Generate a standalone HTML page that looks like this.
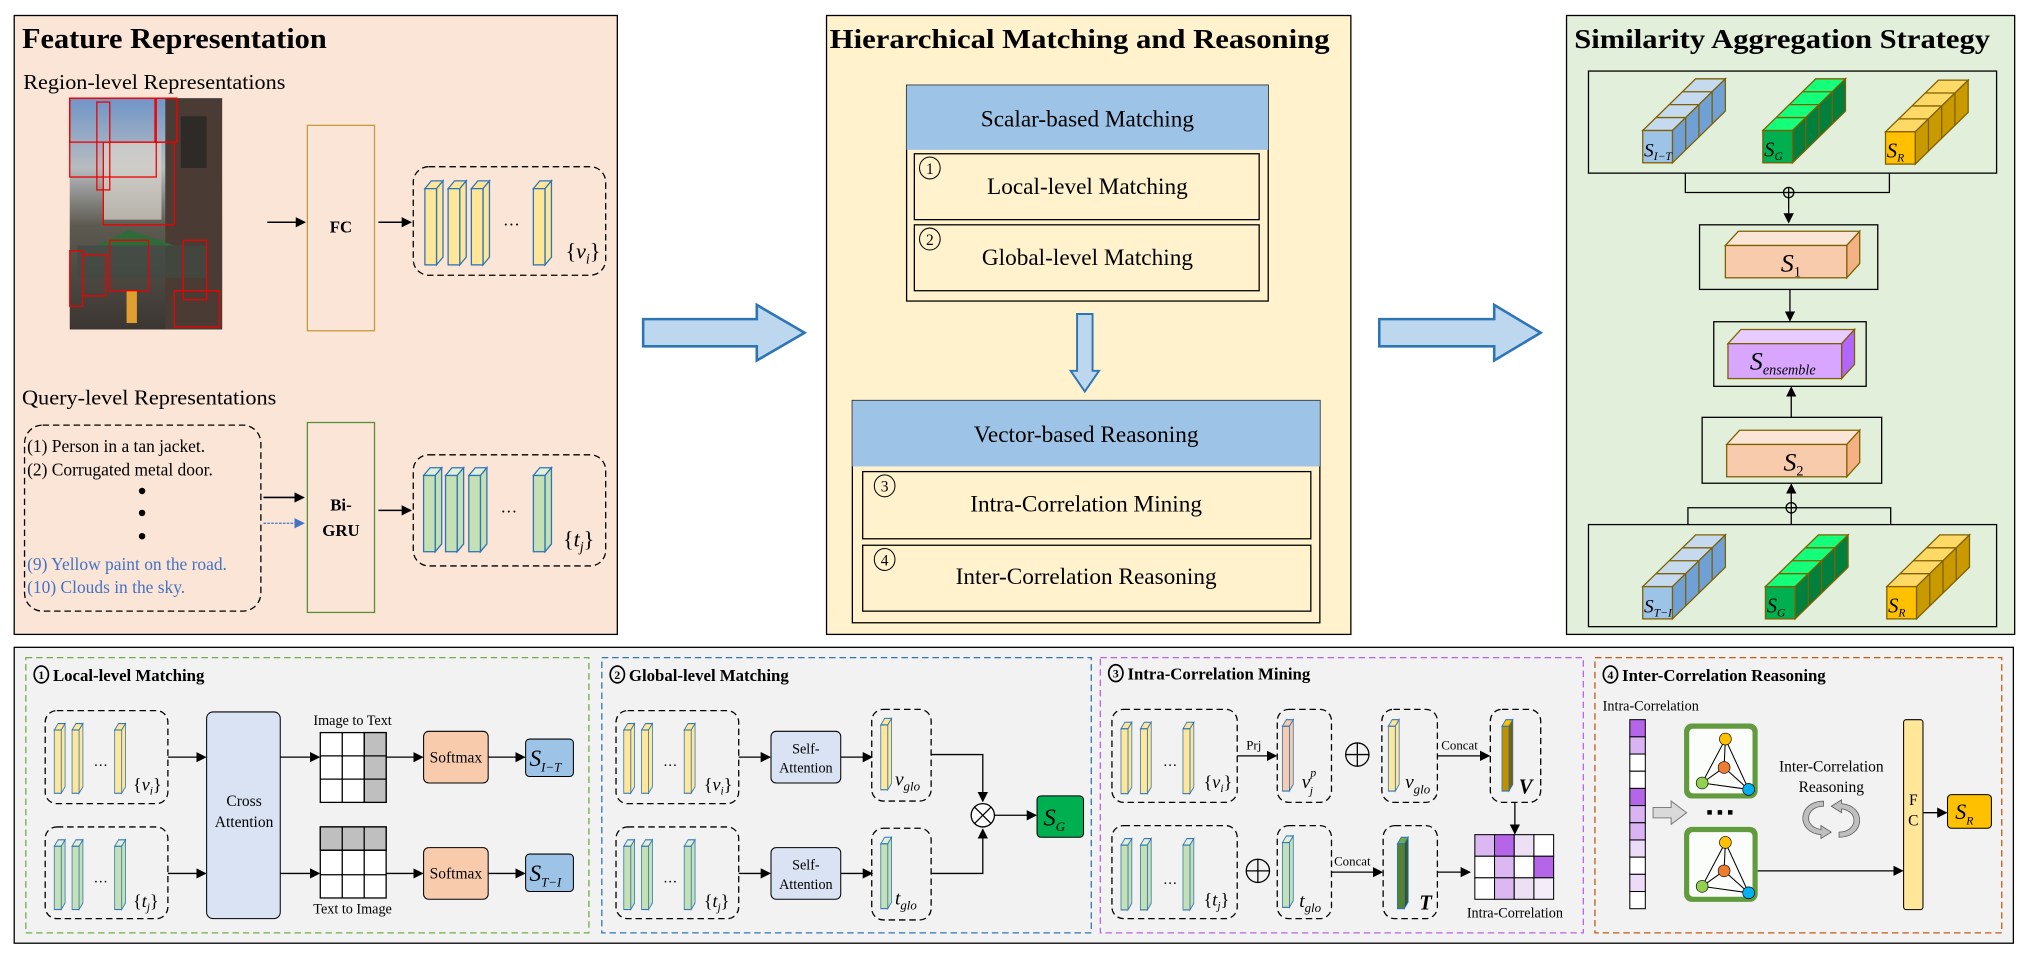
<!DOCTYPE html>
<html><head><meta charset="utf-8"><style>
html,body{margin:0;padding:0;background:#fff;}
svg{display:block;}
text{font-family:"Liberation Serif","DejaVu Serif",serif;fill:#000;}
.b{font-weight:bold;}
.i{font-style:italic;}
</style></head><body>
<svg width="2025" height="960" viewBox="0 0 1568 743" preserveAspectRatio="none" xmlns="http://www.w3.org/2000/svg">
<defs>
<marker id="ah" markerWidth="8" markerHeight="8" refX="7" refY="4" orient="auto" markerUnits="userSpaceOnUse"><path d="M0,0 L8,4 L0,8 z" fill="#000"/></marker>
<marker id="ahb" markerWidth="8" markerHeight="8" refX="7" refY="4" orient="auto" markerUnits="userSpaceOnUse"><path d="M0,0 L8,4 L0,8 z" fill="#4472c4"/></marker>
<g id="by"><polygon points="0,6 5,0 14,0 9,6" fill="#ffe699" stroke="#2e75b6" stroke-width="1"/><polygon points="9,6 14,0 14,59 9,65" fill="#ffe699" stroke="#2e75b6" stroke-width="1"/><rect x="0" y="6" width="9" height="59" fill="#ffe699" stroke="#2e75b6" stroke-width="1"/></g>
<g id="bgr"><polygon points="0,6 5,0 14,0 9,6" fill="#e2f0d9" stroke="#2e75b6" stroke-width="1"/><polygon points="9,6 14,0 14,59 9,65" fill="#c5e0b4" stroke="#2e75b6" stroke-width="1"/><rect x="0" y="6" width="9" height="59" fill="#c5e0b4" stroke="#2e75b6" stroke-width="1"/></g>
<g id="bp"><polygon points="0,6 5,0 14,0 9,6" fill="#f8cbad" stroke="#2e75b6" stroke-width="1"/><polygon points="9,6 14,0 14,59 9,65" fill="#f8cbad" stroke="#2e75b6" stroke-width="1"/><rect x="0" y="6" width="9" height="59" fill="#f8cbad" stroke="#2e75b6" stroke-width="1"/></g>
<g id="bV"><polygon points="0,6 5,0 14,0 9,6" fill="#ffc000" stroke="#2e75b6" stroke-width="1"/><polygon points="9,6 14,0 14,59 9,65" fill="#7f6000" stroke="#2e75b6" stroke-width="1"/><rect x="0" y="6" width="9" height="59" fill="#bf9000" stroke="#2e75b6" stroke-width="1"/></g>
<g id="bT"><polygon points="0,6 5,0 14,0 9,6" fill="#70ad47" stroke="#2e75b6" stroke-width="1"/><polygon points="9,6 14,0 14,59 9,65" fill="#385723" stroke="#2e75b6" stroke-width="1"/><rect x="0" y="6" width="9" height="59" fill="#548235" stroke="#2e75b6" stroke-width="1"/></g>
<g id="chB" stroke="#7f6000" stroke-width="1"><polygon points="0,0 41,-40 64,-40 23,0" fill="#c5d9ef"/><polygon points="23,0 64,-40 64,-15 23,25" fill="#6fa1d6"/><rect x="0" y="0" width="23" height="25" fill="#9dc3e6"/><path d="M10.25,-10H33.25V15M20.5,-20H43.5V5M30.75,-30H53.75V-5" fill="none"/></g>
<g id="chG" stroke="#7f6000" stroke-width="1"><polygon points="0,0 41,-40 64,-40 23,0" fill="#14ff7a"/><polygon points="23,0 64,-40 64,-15 23,25" fill="#00803c"/><rect x="0" y="0" width="23" height="25" fill="#00b050"/><path d="M10.25,-10H33.25V15M20.5,-20H43.5V5M30.75,-30H53.75V-5" fill="none"/></g>
<g id="chY" stroke="#7f6000" stroke-width="1"><polygon points="0,0 41,-40 64,-40 23,0" fill="#ffd966"/><polygon points="23,0 64,-40 64,-15 23,25" fill="#c99a00"/><rect x="0" y="0" width="23" height="25" fill="#ffc000"/><path d="M10.25,-10H33.25V15M20.5,-20H43.5V5M30.75,-30H53.75V-5" fill="none"/></g>
<g id="graph"><rect x="0" y="0" width="57" height="58" rx="6" fill="#629a3e"/><rect x="4" y="4" width="49" height="50" rx="3" fill="#fbfdfb"/>
<path d="M32,12 L14,46 M32,12 L50,51 M32,12 L31,34 M31,34 L14,46 M31,34 L50,51 M14,46 L50,51" stroke="#000" stroke-width="0.8" fill="none"/>
<circle cx="32" cy="12" r="4.6" fill="#ffc000" stroke="#000" stroke-width=".5"/><circle cx="31" cy="34" r="4.6" fill="#ed7d31" stroke="#000" stroke-width=".5"/><circle cx="14" cy="46" r="4.6" fill="#92d050" stroke="#000" stroke-width=".5"/><circle cx="50" cy="51" r="4.6" fill="#00b0f0" stroke="#000" stroke-width=".5"/></g>
<linearGradient id="photo" x1="0" y1="0" x2="0" y2="1"><stop offset="0" stop-color="#6f95c8"/><stop offset=".3" stop-color="#b8bcc0"/><stop offset=".55" stop-color="#5d5a50"/><stop offset="1" stop-color="#3b3632"/></linearGradient>
</defs>

<!-- Panel 1 -->
<rect x="11" y="12" width="467" height="479" fill="#fbe5d6" stroke="#000" stroke-width="1"/>
<text x="17" y="37" class="b" font-size="22" textLength="236" lengthAdjust="spacingAndGlyphs">Feature Representation</text>
<text x="18" y="69" font-size="16" textLength="203" lengthAdjust="spacingAndGlyphs">Region-level Representations</text>
<rect x="54" y="76" width="118" height="179" fill="url(#photo)"/>
<rect x="128" y="76" width="44" height="179" fill="#4a3c34"/>
<rect x="140" y="90" width="20" height="40" fill="#2d2a28"/>
<rect x="80" y="110" width="45" height="60" fill="#d8d4cc" opacity=".7"/>
<path d="M75,190 L100,178 L135,190 Z" fill="#2f6a3a"/>
<rect x="60" y="190" width="100" height="25" fill="#3f4a44" opacity=".7"/>
<rect x="98" y="225" width="8" height="25" fill="#e0a030"/>
<g fill="none" stroke="#e00" stroke-width="1">
<rect x="54" y="76" width="83" height="34"/><rect x="75" y="79" width="10" height="68"/><rect x="54" y="76" width="67" height="61"/><rect x="120" y="76" width="17" height="34"/><rect x="80" y="110" width="55" height="64"/><rect x="54" y="194" width="10" height="43"/><rect x="64" y="197" width="18" height="32"/><rect x="85" y="186" width="30" height="39"/><rect x="142" y="186" width="18" height="46"/><rect x="135" y="225" width="35" height="28"/></g>
<line x1="207" y1="172" x2="236" y2="172" stroke="#000" stroke-width="1.2" marker-end="url(#ah)"/>
<rect x="238" y="97" width="52" height="159" fill="none" stroke="#c59a3a" stroke-width="1"/>
<text x="264" y="180" class="b" font-size="13" text-anchor="middle">FC</text>
<line x1="293" y1="172" x2="318" y2="172" stroke="#000" stroke-width="1.2" marker-end="url(#ah)"/>
<rect x="320" y="129" width="149" height="84" rx="12" fill="none" stroke="#000" stroke-dasharray="5,3"/>
<use href="#by" x="329" y="140"/><use href="#by" x="347" y="140"/><use href="#by" x="365" y="140"/><use href="#by" x="413" y="140"/>
<text x="396" y="178" font-size="13" text-anchor="middle">···</text>
<text x="438" y="200" font-size="17">{<tspan class="i">v</tspan><tspan class="i" font-size="11" dy="4">i</tspan><tspan dy="-4">}</tspan></text>
<text x="17" y="313" font-size="16" textLength="197" lengthAdjust="spacingAndGlyphs">Query-level Representations</text>
<rect x="19" y="329" width="183" height="144" rx="14" fill="none" stroke="#000" stroke-dasharray="5,3"/>
<text x="21" y="350" font-size="13.5">(1) Person in a tan jacket.</text>
<text x="21" y="368" font-size="13.5">(2) Corrugated metal door.</text>
<circle cx="110" cy="380" r="2.5"/><circle cx="110" cy="397" r="2.5"/><circle cx="110" cy="415" r="2.5"/>
<text x="21" y="441" font-size="13.5" style="fill:#4472c4">(9) Yellow paint on the road.</text>
<text x="21" y="459" font-size="13.5" style="fill:#4472c4">(10) Clouds in the sky.</text>
<line x1="204" y1="385" x2="235" y2="385" stroke="#000" stroke-width="1.2" marker-end="url(#ah)"/>
<line x1="204" y1="405" x2="235" y2="405" stroke="#4472c4" stroke-width="1" stroke-dasharray="2,1" marker-end="url(#ahb)"/>
<rect x="238" y="327" width="52" height="147" fill="none" stroke="#5b8c3a" stroke-width="1"/>
<text x="264" y="395" class="b" font-size="13" text-anchor="middle">Bi-</text>
<text x="264" y="415" class="b" font-size="13" text-anchor="middle">GRU</text>
<line x1="293" y1="395" x2="318" y2="395" stroke="#000" stroke-width="1.2" marker-end="url(#ah)"/>
<rect x="320" y="352" width="149" height="86" rx="12" fill="none" stroke="#000" stroke-dasharray="5,3"/>
<use href="#bgr" x="328" y="362"/><use href="#bgr" x="345" y="362"/><use href="#bgr" x="363" y="362"/><use href="#bgr" x="413" y="362"/>
<text x="394" y="400" font-size="13" text-anchor="middle">···</text>
<text x="436" y="423" font-size="17">{<tspan class="i">t</tspan><tspan class="i" font-size="11" dy="4">j</tspan><tspan dy="-4">}</tspan></text>

<!-- big arrows -->
<polygon points="498,247 586,247 586,236 623,257.5 586,279 586,268 498,268" fill="#bdd7ee" stroke="#2e75b6" stroke-width="2"/>
<polygon points="1068,247 1157,247 1157,236 1193,257.5 1157,279 1157,268 1068,268" fill="#bdd7ee" stroke="#2e75b6" stroke-width="2"/>

<!-- Panel 2 -->
<rect x="640" y="12" width="406" height="479" fill="#fff2cc" stroke="#000" stroke-width="1"/>
<text x="836" y="37" class="b" font-size="21" text-anchor="middle" textLength="387" lengthAdjust="spacingAndGlyphs">Hierarchical Matching and Reasoning</text>
<rect x="702" y="66" width="280" height="167" fill="none" stroke="#000"/>
<rect x="702" y="66" width="280" height="50" fill="#9dc3e6"/>
<text x="842" y="98" font-size="18" text-anchor="middle">Scalar-based Matching</text>
<rect x="708" y="119" width="267" height="51" fill="none" stroke="#000"/>
<rect x="708" y="174" width="267" height="51" fill="none" stroke="#000"/>
<g fill="none" stroke="#000" stroke-width=".8"><ellipse cx="720" cy="130" rx="8" ry="8.5"/><ellipse cx="720" cy="185" rx="8" ry="8.5"/><ellipse cx="685" cy="376" rx="8" ry="8.5"/><ellipse cx="685" cy="433" rx="8" ry="8.5"/></g>
<text x="720" y="134.5" font-size="12" text-anchor="middle">1</text>
<text x="720" y="189.5" font-size="12" text-anchor="middle">2</text>
<text x="685" y="380.5" font-size="12" text-anchor="middle">3</text>
<text x="685" y="437.5" font-size="12" text-anchor="middle">4</text>
<text x="842" y="150" font-size="18" text-anchor="middle">Local-level Matching</text>
<text x="842" y="205" font-size="18" text-anchor="middle">Global-level Matching</text>
<polygon points="834,243 846,243 846,287 851,287 840,303 829,287 834,287" fill="#bdd7ee" stroke="#2e75b6" stroke-width="1.5"/>
<rect x="660" y="310" width="362" height="172" fill="none" stroke="#000"/>
<rect x="660" y="310" width="362" height="51" fill="#9dc3e6"/>
<text x="841" y="342" font-size="18" text-anchor="middle">Vector-based Reasoning</text>
<rect x="668" y="365" width="347" height="52" fill="none" stroke="#000"/>
<rect x="668" y="422" width="347" height="51" fill="none" stroke="#000"/>
<text x="841" y="396" font-size="18" text-anchor="middle">Intra-Correlation Mining</text>
<text x="841" y="452" font-size="18" text-anchor="middle">Inter-Correlation Reasoning</text>

<!-- Panel 3 -->
<rect x="1213" y="12" width="347" height="479" fill="#e2efda" stroke="#000" stroke-width="1"/>
<text x="1380" y="37" class="b" font-size="21" text-anchor="middle" textLength="322" lengthAdjust="spacingAndGlyphs">Similarity Aggregation Strategy</text>
<rect x="1230" y="55" width="316" height="79" fill="none" stroke="#000"/>
<use href="#chB" x="1272" y="101"/><use href="#chG" x="1365" y="101"/><use href="#chY" x="1460" y="102"/>
<text x="1273" y="121" font-size="15" class="i">S<tspan font-size="9" dy="3">I−T</tspan></text>
<text x="1366" y="121" font-size="16" class="i">S<tspan font-size="9" dy="3">G</tspan></text>
<text x="1461" y="122" font-size="16" class="i">S<tspan font-size="9" dy="3">R</tspan></text>
<path d="M1305,134 V149 H1463 V134" fill="none" stroke="#000"/>
<circle cx="1385" cy="149" r="4" fill="none" stroke="#000"/><path d="M1381,149H1389M1385,145V153" stroke="#000"/>
<line x1="1385" y1="153" x2="1385" y2="172" stroke="#000" marker-end="url(#ah)"/>
<rect x="1316" y="174" width="138" height="50" fill="none" stroke="#000"/>
<g stroke="#7f6000" stroke-width="1"><polygon points="1336,190 1346,179 1440,179 1430,190" fill="#fbe5d6"/><polygon points="1430,190 1440,179 1440,204 1430,215" fill="#f4b183"/><rect x="1336" y="190" width="94" height="25" fill="#f8cbad"/></g>
<text x="1379" y="210" font-size="20" class="i">S<tspan font-size="11" dy="4" font-style="normal">1</tspan></text>
<line x1="1386" y1="224" x2="1386" y2="248" stroke="#000" marker-end="url(#ah)"/>
<rect x="1327" y="249" width="118" height="50" fill="none" stroke="#000"/>
<g stroke="#7f6000" stroke-width="1"><polygon points="1338,266 1348,255 1436,255 1426,266" fill="#e8ccff"/><polygon points="1426,266 1436,255 1436,282 1426,293" fill="#b266ff"/><rect x="1338" y="266" width="88" height="27" fill="#d9a6ff"/></g>
<text x="1355" y="286" font-size="20" class="i">S<tspan font-size="11" dy="4">ensemble</tspan></text>
<line x1="1387" y1="323" x2="1387" y2="300" stroke="#000" marker-end="url(#ah)"/>
<rect x="1318" y="323" width="139" height="51" fill="none" stroke="#000"/>
<g stroke="#7f6000" stroke-width="1"><polygon points="1337,344 1347,333 1440,333 1430,344" fill="#fbe5d6"/><polygon points="1430,344 1440,333 1440,358 1430,369" fill="#f4b183"/><rect x="1337" y="344" width="93" height="25" fill="#f8cbad"/></g>
<text x="1381" y="364" font-size="20" class="i">S<tspan font-size="11" dy="4" font-style="normal">2</tspan></text>
<path d="M1307,406 V393 H1464 V406" fill="none" stroke="#000"/>
<line x1="1387" y1="406" x2="1387" y2="397" stroke="#000"/>
<circle cx="1387" cy="393" r="4" fill="none" stroke="#000"/><path d="M1383,393H1391M1387,389V397" stroke="#000"/>
<line x1="1387" y1="389" x2="1387" y2="375" stroke="#000" marker-end="url(#ah)"/>
<rect x="1230" y="406" width="316" height="79" fill="none" stroke="#000"/>
<use href="#chB" x="1272" y="454"/><use href="#chG" x="1367" y="454"/><use href="#chY" x="1461" y="454"/>
<text x="1273" y="474" font-size="15" class="i">S<tspan font-size="9" dy="3">T−I</tspan></text>
<text x="1368" y="474" font-size="16" class="i">S<tspan font-size="9" dy="3">G</tspan></text>
<text x="1462" y="474" font-size="16" class="i">S<tspan font-size="9" dy="3">R</tspan></text>

<!-- Bottom panel -->
<rect x="11" y="501" width="1548" height="229" fill="#f2f2f2" stroke="#000" stroke-width="1"/>
<rect x="20" y="509" width="436" height="213" fill="none" stroke="#70ad47" stroke-dasharray="5,3"/>
<rect x="466" y="509" width="379" height="213" fill="none" stroke="#2e75b6" stroke-dasharray="5,3"/>
<rect x="852" y="509" width="374" height="213" fill="none" stroke="#b565e8" stroke-dasharray="5,3"/>
<rect x="1235" y="509" width="315" height="213" fill="none" stroke="#c55a11" stroke-dasharray="5,3"/>
<g fill="none" stroke="#000" stroke-width="1.3"><ellipse cx="32" cy="522" rx="5.5" ry="6.5"/><ellipse cx="478" cy="522" rx="5.5" ry="6.5"/><ellipse cx="864" cy="521" rx="5.5" ry="6.5"/><ellipse cx="1247" cy="522" rx="5.5" ry="6.5"/></g>
<g class="b" font-size="9" text-anchor="middle"><text x="32" y="525.5" class="b">1</text><text x="478" y="525.5" class="b">2</text><text x="864" y="524.5" class="b">3</text><text x="1247" y="525.5" class="b">4</text></g>
<text x="41" y="527" class="b" font-size="13">Local-level Matching</text>
<text x="487" y="527" class="b" font-size="13">Global-level Matching</text>
<text x="873" y="526" class="b" font-size="13">Intra-Correlation Mining</text>
<text x="1256" y="527" class="b" font-size="13">Inter-Correlation Reasoning</text>

<!-- sub1 -->
<rect x="35" y="550" width="95" height="72" rx="9" fill="none" stroke="#000" stroke-dasharray="5,3"/>
<rect x="35" y="640" width="95" height="71" rx="9" fill="none" stroke="#000" stroke-dasharray="5,3"/>
<g transform="translate(42,560) scale(0.6,0.83)"><use href="#by"/><use href="#by" x="23"/><use href="#by" x="78"/></g>
<g transform="translate(42,650) scale(0.6,0.83)"><use href="#bgr"/><use href="#bgr" x="23"/><use href="#bgr" x="78"/></g>
<text x="78" y="593" font-size="11" text-anchor="middle">…</text><text x="78" y="683" font-size="11" text-anchor="middle">…</text>
<text x="103" y="612" font-size="14">{<tspan class="i">v</tspan><tspan class="i" font-size="9" dy="3">i</tspan><tspan dy="-3">}</tspan></text>
<text x="103" y="702" font-size="14">{<tspan class="i">t</tspan><tspan class="i" font-size="9" dy="3">j</tspan><tspan dy="-3">}</tspan></text>
<line x1="130" y1="586" x2="159" y2="586" stroke="#000" marker-end="url(#ah)"/>
<line x1="130" y1="676" x2="159" y2="676" stroke="#000" marker-end="url(#ah)"/>
<rect x="160" y="551" width="57" height="160" rx="5" fill="#dae3f3" stroke="#000" stroke-width=".8"/>
<text x="189" y="624" font-size="12" text-anchor="middle">Cross</text><text x="189" y="640" font-size="12" text-anchor="middle">Attention</text>
<line x1="217" y1="586" x2="247" y2="586" stroke="#000" marker-end="url(#ah)"/>
<line x1="217" y1="676" x2="247" y2="676" stroke="#000" marker-end="url(#ah)"/>
<text x="273" y="561" font-size="11" text-anchor="middle">Image to Text</text>
<rect x="248" y="567" width="51" height="54" fill="#fff" stroke="#000"/><rect x="282" y="567" width="17" height="54" fill="#bfbfbf" stroke="#000"/>
<path d="M265,567V621M282,567V621M248,585H299M248,603H299" stroke="#000" fill="none"/>
<rect x="248" y="640" width="51" height="55" fill="#fff" stroke="#000"/><rect x="248" y="640" width="51" height="18" fill="#bfbfbf" stroke="#000"/>
<path d="M265,640V695M282,640V695M248,658H299M248,677H299" stroke="#000" fill="none"/>
<text x="273" y="707" font-size="11" text-anchor="middle">Text to Image</text>
<line x1="299" y1="586" x2="327" y2="586" stroke="#000" marker-end="url(#ah)"/>
<line x1="299" y1="676" x2="327" y2="676" stroke="#000" marker-end="url(#ah)"/>
<rect x="328" y="566" width="50" height="40" rx="4" fill="#f8cbad" stroke="#000" stroke-width=".8"/>
<rect x="328" y="656" width="50" height="40" rx="4" fill="#f8cbad" stroke="#000" stroke-width=".8"/>
<text x="353" y="590" font-size="12" text-anchor="middle">Softmax</text><text x="353" y="680" font-size="12" text-anchor="middle">Softmax</text>
<line x1="378" y1="586" x2="406" y2="586" stroke="#000" marker-end="url(#ah)"/>
<line x1="378" y1="676" x2="406" y2="676" stroke="#000" marker-end="url(#ah)"/>
<rect x="407" y="572" width="37" height="29" rx="3" fill="#9dc3e6" stroke="#000" stroke-width=".8"/>
<rect x="407" y="661" width="37" height="29" rx="3" fill="#9dc3e6" stroke="#000" stroke-width=".8"/>
<text x="410" y="593" font-size="18" class="i">S<tspan font-size="10" dy="4">I−T</tspan></text>
<text x="410" y="682" font-size="18" class="i">S<tspan font-size="10" dy="4">T−I</tspan></text>

<!-- sub2 -->
<rect x="477" y="550" width="95" height="72" rx="9" fill="none" stroke="#000" stroke-dasharray="5,3"/>
<rect x="477" y="640" width="95" height="71" rx="9" fill="none" stroke="#000" stroke-dasharray="5,3"/>
<g transform="translate(483,560) scale(0.6,0.83)"><use href="#by"/><use href="#by" x="23"/><use href="#by" x="78"/></g>
<g transform="translate(483,650) scale(0.6,0.83)"><use href="#bgr"/><use href="#bgr" x="23"/><use href="#bgr" x="78"/></g>
<text x="519" y="593" font-size="11" text-anchor="middle">…</text><text x="519" y="683" font-size="11" text-anchor="middle">…</text>
<text x="545" y="612" font-size="14">{<tspan class="i">v</tspan><tspan class="i" font-size="9" dy="3">i</tspan><tspan dy="-3">}</tspan></text>
<text x="545" y="702" font-size="14">{<tspan class="i">t</tspan><tspan class="i" font-size="9" dy="3">j</tspan><tspan dy="-3">}</tspan></text>
<line x1="572" y1="586" x2="596" y2="586" stroke="#000" marker-end="url(#ah)"/>
<line x1="572" y1="676" x2="596" y2="676" stroke="#000" marker-end="url(#ah)"/>
<rect x="597" y="566" width="54" height="40" rx="4" fill="#dae3f3" stroke="#000" stroke-width=".8"/>
<rect x="597" y="656" width="54" height="40" rx="4" fill="#dae3f3" stroke="#000" stroke-width=".8"/>
<text x="624" y="583" font-size="11" text-anchor="middle">Self-</text><text x="624" y="598" font-size="11" text-anchor="middle">Attention</text>
<text x="624" y="673" font-size="11" text-anchor="middle">Self-</text><text x="624" y="688" font-size="11" text-anchor="middle">Attention</text>
<line x1="651" y1="586" x2="675" y2="586" stroke="#000" marker-end="url(#ah)"/>
<line x1="651" y1="676" x2="675" y2="676" stroke="#000" marker-end="url(#ah)"/>
<rect x="675" y="549" width="46" height="71" rx="9" fill="none" stroke="#000" stroke-dasharray="5,3"/>
<rect x="675" y="641" width="46" height="71" rx="9" fill="none" stroke="#000" stroke-dasharray="5,3"/>
<g transform="translate(682,556) scale(0.6,0.85)"><use href="#by"/></g>
<g transform="translate(682,648) scale(0.6,0.85)"><use href="#bgr"/></g>
<text x="693" y="608" font-size="15" class="i">v<tspan font-size="10" dy="4">glo</tspan></text>
<text x="693" y="700" font-size="15" class="i">t<tspan font-size="10" dy="4">glo</tspan></text>
<path d="M721,584 H761 V620" fill="none" stroke="#000" marker-end="url(#ah)"/>
<path d="M721,676 H761 V642" fill="none" stroke="#000" marker-end="url(#ah)"/>
<circle cx="761" cy="631" r="9" fill="#fff" stroke="#000"/><path d="M754.6,624.6L767.4,637.4M767.4,624.6L754.6,637.4" stroke="#000"/>
<line x1="770" y1="631" x2="802" y2="631" stroke="#000" marker-end="url(#ah)"/>
<rect x="803" y="616" width="36" height="32" rx="3" fill="#00b050" stroke="#000" stroke-width=".8"/>
<text x="808" y="639" font-size="19" class="i">S<tspan font-size="10" dy="4">G</tspan></text>

<!-- sub3 -->
<rect x="861" y="549" width="97" height="72" rx="9" fill="none" stroke="#000" stroke-dasharray="5,3"/>
<rect x="861" y="639" width="97" height="72" rx="9" fill="none" stroke="#000" stroke-dasharray="5,3"/>
<g transform="translate(868,559) scale(0.6,0.85)"><use href="#by"/><use href="#by" x="25"/><use href="#by" x="80"/></g>
<g transform="translate(868,649) scale(0.6,0.85)"><use href="#bgr"/><use href="#bgr" x="25"/><use href="#bgr" x="80"/></g>
<text x="906" y="593" font-size="11" text-anchor="middle">…</text><text x="906" y="684" font-size="11" text-anchor="middle">…</text>
<text x="932" y="610" font-size="14">{<tspan class="i">v</tspan><tspan class="i" font-size="9" dy="3">i</tspan><tspan dy="-3">}</tspan></text>
<text x="932" y="701" font-size="14">{<tspan class="i">t</tspan><tspan class="i" font-size="9" dy="3">j</tspan><tspan dy="-3">}</tspan></text>
<line x1="958" y1="585" x2="988" y2="585" stroke="#000" marker-end="url(#ah)"/>
<text x="965" y="580" font-size="10">Prj</text>
<rect x="989" y="549" width="42" height="72" rx="9" fill="none" stroke="#000" stroke-dasharray="5,3"/>
<rect x="989" y="639" width="42" height="72" rx="9" fill="none" stroke="#000" stroke-dasharray="5,3"/>
<g transform="translate(993,557) scale(0.6,0.85)"><use href="#bp"/></g>
<g transform="translate(993,647) scale(0.6,0.85)"><use href="#bgr"/></g>
<text x="1008" y="610" font-size="15" class="i">v<tspan font-size="9" dy="-9">p</tspan><tspan font-size="9" dx="-5" dy="14">j</tspan></text>
<text x="1006" y="702" font-size="15" class="i">t<tspan font-size="10" dy="4">glo</tspan></text>
<circle cx="1051" cy="584" r="9" fill="none" stroke="#000"/><path d="M1042,584H1060M1051,575V593" stroke="#000"/>
<circle cx="974" cy="674" r="9" fill="none" stroke="#000"/><path d="M965,674H983M974,665V683" stroke="#000"/>
<rect x="1070" y="549" width="43" height="72" rx="9" fill="none" stroke="#000" stroke-dasharray="5,3"/>
<g transform="translate(1075,557) scale(0.6,0.85)"><use href="#by"/></g>
<text x="1088" y="610" font-size="15" class="i">v<tspan font-size="10" dy="4">glo</tspan></text>
<line x1="1113" y1="585" x2="1153" y2="585" stroke="#000" marker-end="url(#ah)"/>
<text x="1116" y="580" font-size="10">Concat</text>
<rect x="1154" y="549" width="39" height="72" rx="9" fill="none" stroke="#000" stroke-dasharray="5,3"/>
<g transform="translate(1163,557) scale(0.6,0.85)"><use href="#bV"/></g>
<text x="1176" y="614" font-size="16" class="i b">V</text>
<line x1="1173" y1="621" x2="1173" y2="645" stroke="#000" marker-end="url(#ah)"/>
<line x1="1031" y1="675" x2="1070" y2="675" stroke="#000" marker-end="url(#ah)"/>
<text x="1033" y="670" font-size="10">Concat</text>
<rect x="1071" y="639" width="42" height="72" rx="9" fill="none" stroke="#000" stroke-dasharray="5,3"/>
<g transform="translate(1082,648) scale(0.6,0.85)"><use href="#bT"/></g>
<text x="1099" y="704" font-size="16" class="i b">T</text>
<line x1="1113" y1="675" x2="1138" y2="675" stroke="#000" marker-end="url(#ah)"/>
<g stroke="#000" stroke-width=".8">
<rect x="1142" y="646" width="15.25" height="16.7" fill="#dcb8f2"/><rect x="1157.25" y="646" width="15.25" height="16.7" fill="#b565e8"/><rect x="1172.5" y="646" width="15.25" height="16.7" fill="#ede0f5"/><rect x="1187.75" y="646" width="15.25" height="16.7" fill="#fff"/>
<rect x="1142" y="662.7" width="15.25" height="16.7" fill="#fff"/><rect x="1157.25" y="662.7" width="15.25" height="16.7" fill="#dcb8f2"/><rect x="1172.5" y="662.7" width="15.25" height="16.7" fill="#fff"/><rect x="1187.75" y="662.7" width="15.25" height="16.7" fill="#b565e8"/>
<rect x="1142" y="679.4" width="15.25" height="16.6" fill="#fff"/><rect x="1157.25" y="679.4" width="15.25" height="16.6" fill="#dcb8f2"/><rect x="1172.5" y="679.4" width="15.25" height="16.6" fill="#ede0f5"/><rect x="1187.75" y="679.4" width="15.25" height="16.6" fill="#f5ecfa"/></g>
<text x="1173" y="710" font-size="11" text-anchor="middle">Intra-Correlation</text>

<!-- sub4 -->
<text x="1241" y="550" font-size="11">Intra-Correlation</text>
<g stroke="#000" stroke-width=".8">
<rect x="1262" y="557" width="12" height="13.3" fill="#b565e8"/><rect x="1262" y="570.3" width="12" height="13.3" fill="#d9b3f2"/><rect x="1262" y="583.6" width="12" height="13.3" fill="#fff"/><rect x="1262" y="596.9" width="12" height="13.3" fill="#fff"/><rect x="1262" y="610.2" width="12" height="13.3" fill="#b565e8"/><rect x="1262" y="623.5" width="12" height="13.3" fill="#d9b3f2"/><rect x="1262" y="636.8" width="12" height="13.3" fill="#d9b3f2"/><rect x="1262" y="650.1" width="12" height="13.3" fill="#ecdcf7"/><rect x="1262" y="663.4" width="12" height="13.3" fill="#fff"/><rect x="1262" y="676.7" width="12" height="13.3" fill="#ecdcf7"/><rect x="1262" y="690" width="12" height="13.3" fill="#fff"/></g>
<polygon points="1280,625 1294,625 1294,620 1306,629 1294,638 1294,633 1280,633" fill="#d9d9d9" stroke="#7f7f7f" stroke-width=".8"/>
<use href="#graph" x="1304" y="560"/>
<use href="#graph" x="1304" y="640"/>
<rect x="1322" y="627" width="3.5" height="3.5"/><rect x="1330" y="627" width="3.5" height="3.5"/><rect x="1338" y="627" width="3.5" height="3.5"/>
<text x="1418" y="597" font-size="12" text-anchor="middle">Inter-Correlation</text>
<text x="1418" y="613" font-size="12" text-anchor="middle">Reasoning</text>
<path d="M1412,624 C1398,624 1396,640 1410,642 L1410,639 L1418,644 L1410,649 L1410,646 C1390,644 1392,620 1412,620 Z" fill="#bfbfbf" stroke="#595959" stroke-width=".6"/>
<path d="M1424,644 C1438,644 1440,628 1426,626 L1426,629 L1418,624 L1426,619 L1426,622 C1446,624 1444,648 1424,648 Z" fill="#bfbfbf" stroke="#595959" stroke-width=".6"/>
<line x1="1361" y1="674" x2="1473" y2="674" stroke="#000" marker-end="url(#ah)"/>
<rect x="1474" y="557" width="15" height="147" rx="2" fill="#ffe699" stroke="#000" stroke-width=".8"/>
<text x="1481.5" y="623" font-size="12" text-anchor="middle">F</text><text x="1481.5" y="639" font-size="12" text-anchor="middle">C</text>
<line x1="1489" y1="629" x2="1507" y2="629" stroke="#000" marker-end="url(#ah)"/>
<rect x="1508" y="615" width="34" height="26" rx="3" fill="#ffc000" stroke="#000" stroke-width=".8"/>
<text x="1514" y="634" font-size="17" class="i">S<tspan font-size="9" dy="4">R</tspan></text>
</svg>
</body></html>
